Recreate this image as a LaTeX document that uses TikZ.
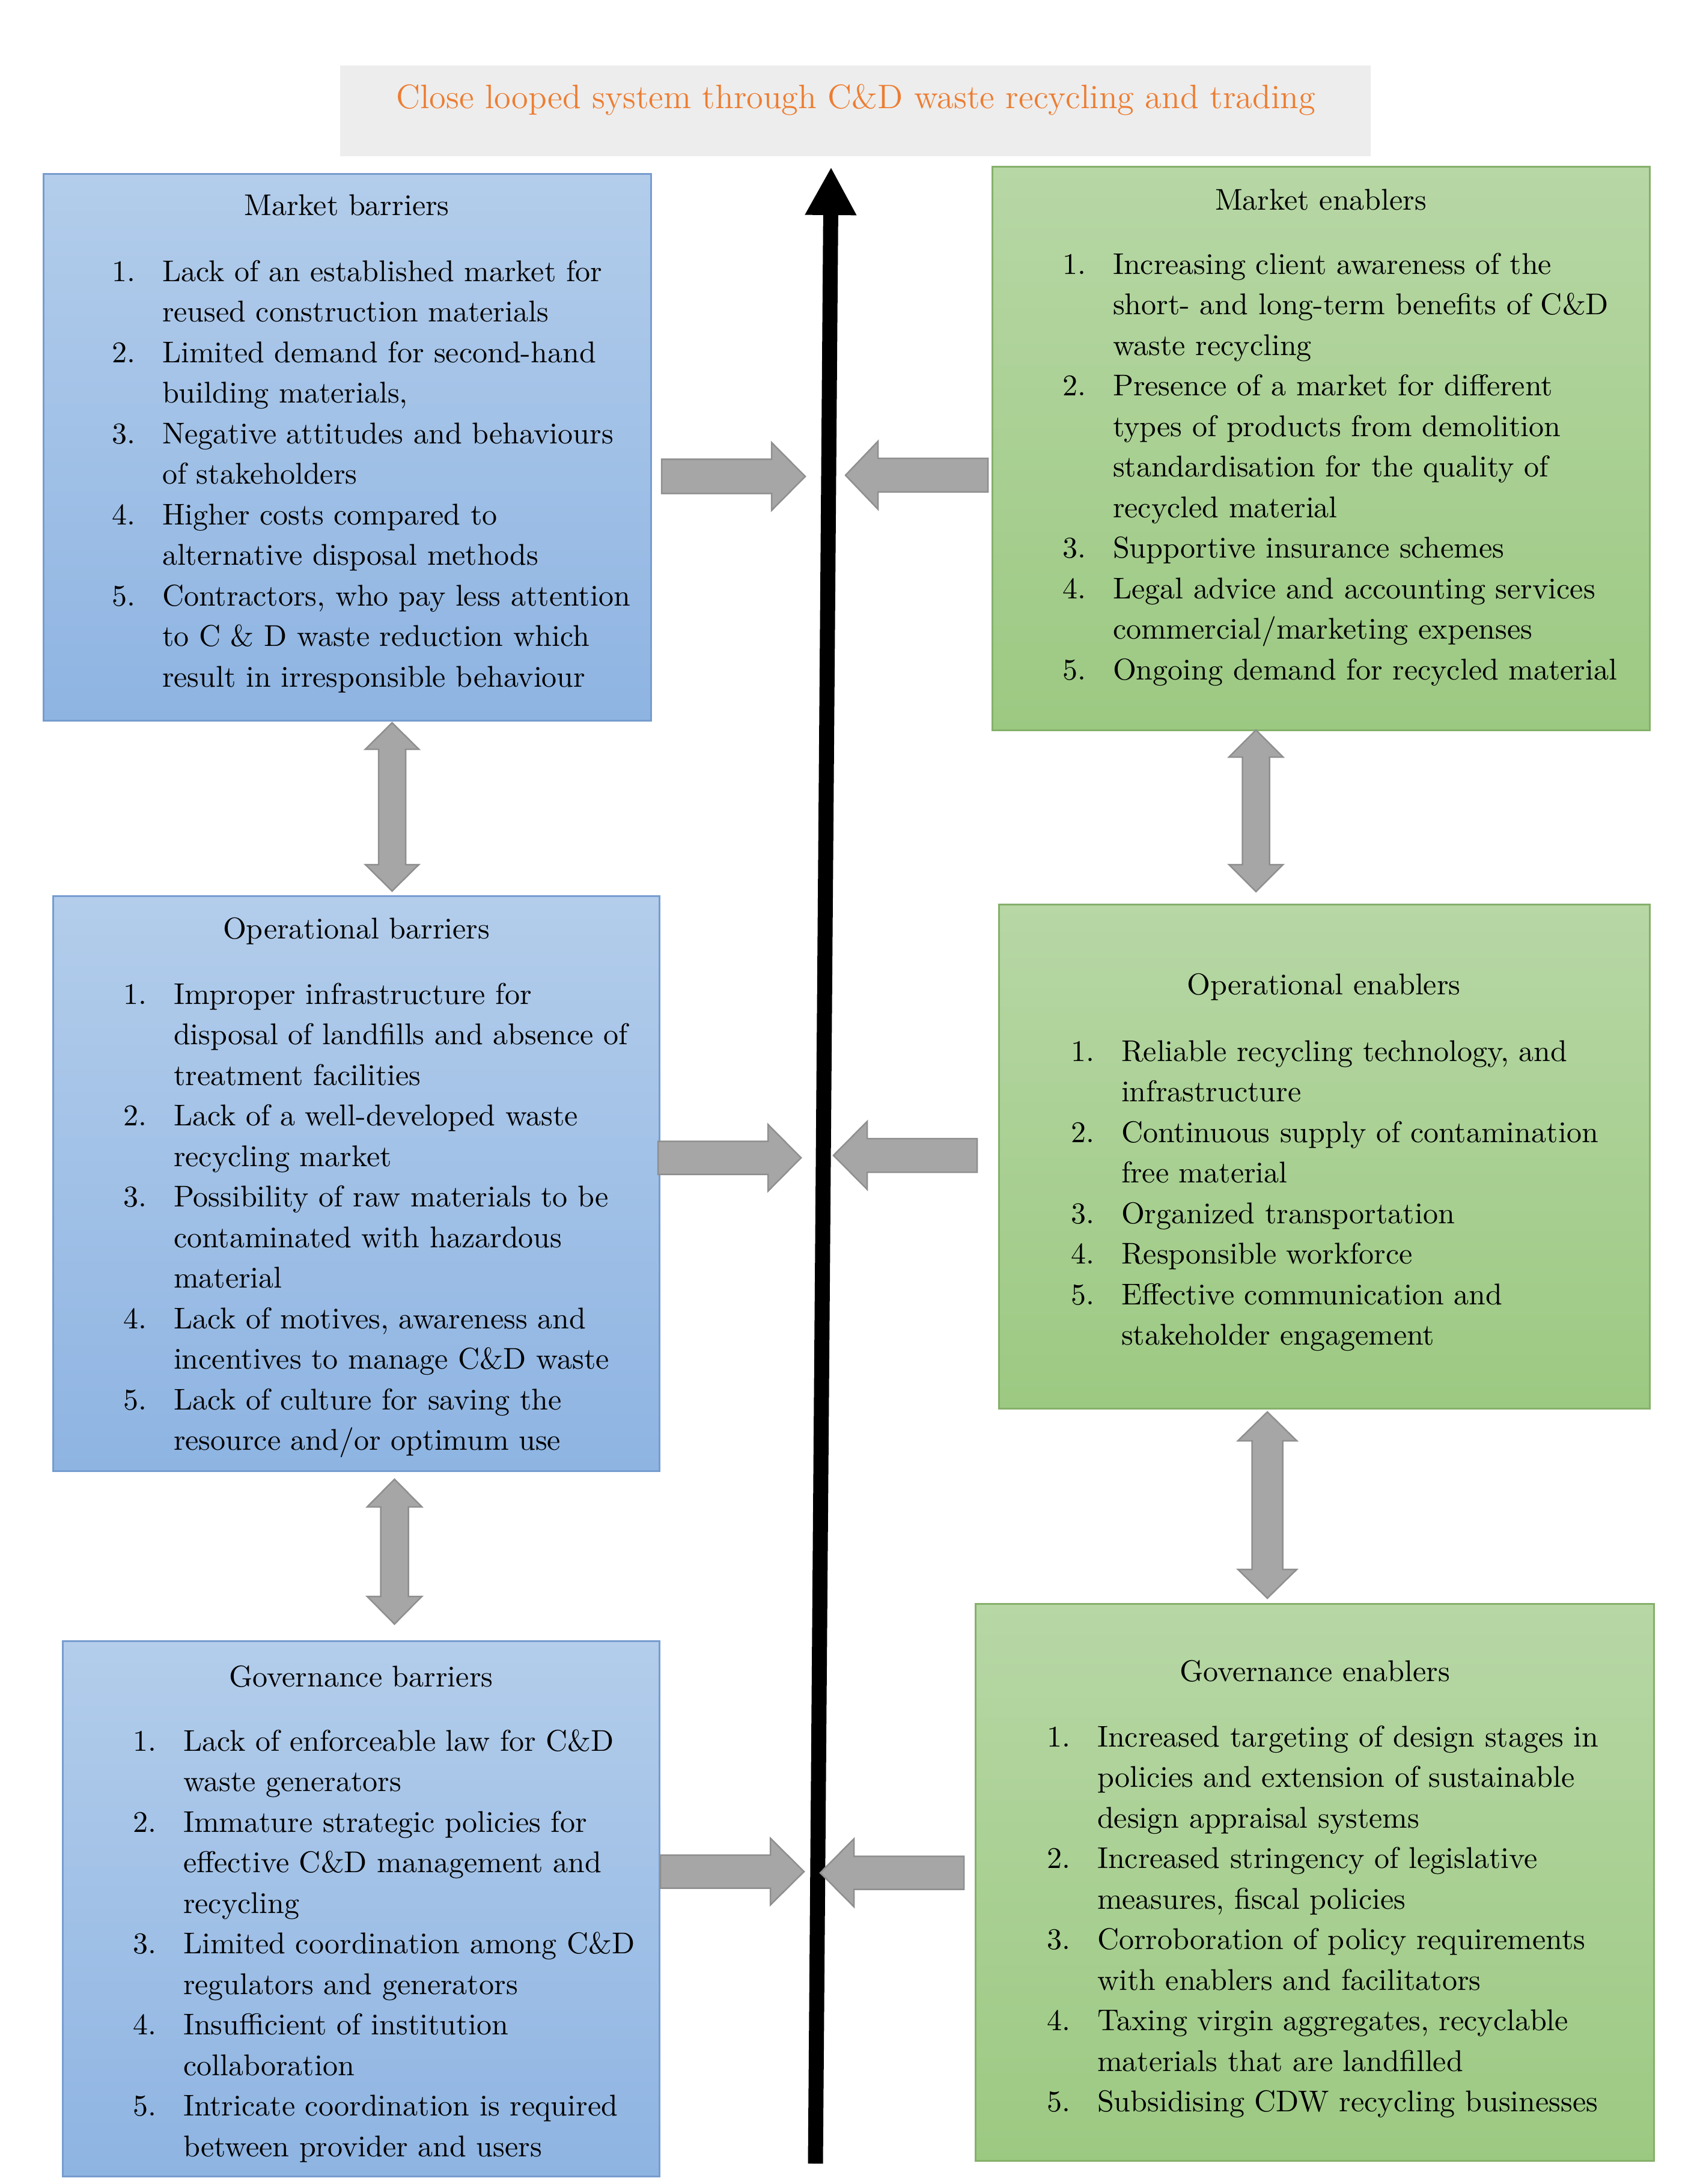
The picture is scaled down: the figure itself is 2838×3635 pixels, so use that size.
\documentclass[tikz,border=0pt]{standalone}
\usetikzlibrary{arrows.meta,fit}
\definecolor{bltop}{HTML}{B3CDEB}
\definecolor{blbot}{HTML}{8EB4E2}
\definecolor{blbrd}{HTML}{779CCF}
\definecolor{grtop}{HTML}{B7D7A5}
\definecolor{grbot}{HTML}{9CC982}
\definecolor{grbrd}{HTML}{85B06A}
\definecolor{arrfill}{HTML}{A6A6A6}
\definecolor{arrbrd}{HTML}{8F8F8F}
\definecolor{titlebg}{HTML}{EDEDED}
\definecolor{titlefg}{HTML}{ED7D31}
\newcommand{\li}[2]{\strut\makebox[16.8pt][l]{#1}#2}
\newcommand{\lc}[1]{\strut\hspace*{16.8pt}#1}
\newcommand{\blockh}[6]{\path[blockarrow] (#1,#4-#5) -- (#2,#4-#5) -- (#2,#4-#6) -- (#3,#4) -- (#2,#4+#6) -- (#2,#4+#5) -- (#1,#4+#5) -- cycle;}
\newcommand{\blockv}[6]{\path[blockarrow] (#1,#2) -- (#1+#5,#2+#6) -- (#1+#4,#2+#6) -- (#1+#4,#3-#6) -- (#1+#5,#3-#6) -- (#1,#3) -- (#1-#5,#3-#6) -- (#1-#4,#3-#6) -- (#1-#4,#2+#6) -- (#1-#5,#2+#6) -- cycle;}
\tikzset{
  bluebox/.style={rectangle, inner sep=0pt, top color=bltop, bottom color=blbot, draw=blbrd, line width=0.6pt},
  greenbox/.style={rectangle, inner sep=0pt, top color=grtop, bottom color=grbot, draw=grbrd, line width=0.6pt},
  blockarrow/.style={fill=arrfill, draw=arrbrd, line width=0.5pt, line join=miter},
  headtext/.style={inner sep=0pt, anchor=base, font=\fontsize{10}{13.5}\selectfont},
  listtext/.style={inner sep=0pt, anchor=north west, align=left, font=\fontsize{10}{13.5}\selectfont},
}
\begin{document}
\begin{tikzpicture}[x=0.2pt,y=-0.2pt]
\useasboundingbox (0,0) rectangle (2838,3635);
% title
\node[fill=titlebg, inner sep=0pt, fit={(566,109) (2281,260)}] (titlebox) {};
\node[inner sep=0pt, anchor=base, text=titlefg, font=\fontsize{11.3}{13}\selectfont] (title) at (1424,181) {Close looped system through C\&D waste recycling and trading};

% boxes
\node[bluebox, fit={(72,290) (1083,1199)}] (mb) {};
\node[greenbox, fit={(1651,278) (2745,1215)}] (me) {};
\node[bluebox, fit={(88,1491) (1097,2448)}] (ob) {};
\node[greenbox, fit={(1662,1505) (2745,2344)}] (oe) {};
\node[bluebox, fit={(104,2731) (1097,3622)}] (gb) {};
\node[greenbox, fit={(1623,2669) (2752,3596)}] (ge) {};

% headings
\node[headtext] (mbh) at (577,359) {Market barriers};
\node[headtext] (meh) at (2198,350) {Market enablers};
\node[headtext] (obh) at (593,1562) {Operational barriers};
\node[headtext] (oeh) at (2203,1655) {Operational enablers};
\node[headtext] (gbh) at (601,2807) {Governance barriers};
\node[headtext] (geh) at (2188,2798) {Governance enablers};

% lists
\node[listtext] (mbl) at (185,420) {%
\li{1.}{Lack of an established market for}\\
\lc{reused construction materials}\\
\li{2.}{Limited demand for second-hand}\\
\lc{building materials,}\\
\li{3.}{Negative attitudes and behaviours}\\
\lc{of stakeholders}\\
\li{4.}{Higher costs compared to}\\
\lc{alternative disposal methods}\\
\li{5.}{Contractors, who pay less attention}\\
\lc{to C \& D waste reduction which}\\
\lc{result in irresponsible behaviour}};

\node[listtext] (mel) at (1767,408) {%
\li{1.}{Increasing client awareness of the}\\
\lc{short- and long-term benefits of C\&D}\\
\lc{waste recycling}\\
\li{2.}{Presence of a market for different}\\
\lc{types of products from demolition}\\
\lc{standardisation for the quality of}\\
\lc{recycled material}\\
\li{3.}{Supportive insurance schemes}\\
\li{4.}{Legal advice and accounting services}\\
\lc{commercial/marketing expenses}\\
\li{5.}{Ongoing demand for recycled material}};

\node[listtext] (obl) at (204,1623) {%
\li{1.}{Improper infrastructure for}\\
\lc{disposal of landfills and absence of}\\
\lc{treatment facilities}\\
\li{2.}{Lack of a well-developed waste}\\
\lc{recycling market}\\
\li{3.}{Possibility of raw materials to be}\\
\lc{contaminated with hazardous}\\
\lc{material}\\
\li{4.}{Lack of motives, awareness and}\\
\lc{incentives to manage C\&D waste}\\
\li{5.}{Lack of culture for saving the}\\
\lc{resource and/or optimum use}};

\node[listtext] (oel) at (1781,1718) {%
\li{1.}{Reliable recycling technology, and}\\
\lc{infrastructure}\\
\li{2.}{Continuous supply of contamination}\\
\lc{free material}\\
\li{3.}{Organized transportation}\\
\li{4.}{Responsible workforce}\\
\li{5.}{Effective communication and}\\
\lc{stakeholder engagement}};

\node[listtext] (gbl) at (220,2866) {%
\li{1.}{Lack of enforceable law for C\&D}\\
\lc{waste generators}\\
\li{2.}{Immature strategic policies for}\\
\lc{effective C\&D management and}\\
\lc{recycling}\\
\li{3.}{Limited coordination among C\&D}\\
\lc{regulators and generators}\\
\li{4.}{Insufficient of institution}\\
\lc{collaboration}\\
\li{5.}{Intricate coordination is required}\\
\lc{between provider and users}};

\node[listtext] (gel) at (1741,2859) {%
\li{1.}{Increased targeting of design stages in}\\
\lc{policies and extension of sustainable}\\
\lc{design appraisal systems}\\
\li{2.}{Increased stringency of legislative}\\
\lc{measures, fiscal policies}\\
\li{3.}{Corroboration of policy requirements}\\
\lc{with enablers and facilitators}\\
\li{4.}{Taxing virgin aggregates, recyclable}\\
\lc{materials that are landfilled}\\
\li{5.}{Subsidising CDW recycling businesses}};

% central arrow
\coordinate (axisbot) at (1357,3601);
\coordinate (axistop) at (1383,278);
\draw[line width=5pt, -{Triangle[width=16pt,length=16pt]}] (axisbot) -- (axistop);

% horizontal block arrows
\blockh{1101}{1284}{1340}{793}{28.5}{56.5}
\blockh{1644}{1461}{1407}{791}{28}{56.5}
\blockh{1095}{1278}{1333}{1927}{27.5}{55.5}
\blockh{1626}{1443}{1387}{1923}{28}{56.5}
\blockh{1099}{1282}{1338}{3115}{27.5}{55.5}
\blockh{1604}{1421}{1365}{3117}{27.5}{56.5}

% vertical double block arrows
\blockv{652.5}{1203}{1483}{22.5}{44.5}{44}
\blockv{656.5}{2462}{2703}{23}{45.5}{46}
\blockv{2090}{1215}{1484}{22.5}{45}{45}
\blockv{2109}{2350}{2660}{25.5}{49}{48}
\end{tikzpicture}
\end{document}
